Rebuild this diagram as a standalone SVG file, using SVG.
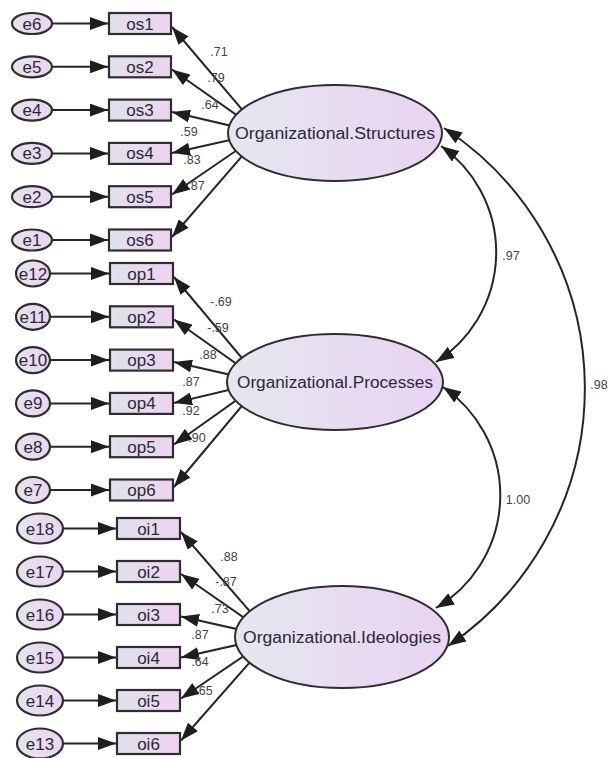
<svg xmlns="http://www.w3.org/2000/svg" width="610" height="758" viewBox="0 0 610 758">
  <defs>
    <linearGradient id="gLat" x1="0" y1="0" x2="1" y2="0">
      <stop offset="0" stop-color="#e5e7ef"/>
      <stop offset="1" stop-color="#e9d3f2"/>
    </linearGradient>
    <linearGradient id="gObs" x1="0" y1="0" x2="1" y2="0">
      <stop offset="0" stop-color="#e0e1eb"/>
      <stop offset="1" stop-color="#eed3f0"/>
    </linearGradient>
    <linearGradient id="gErr" x1="0" y1="0" x2="1" y2="0">
      <stop offset="0" stop-color="#e3e4ee"/>
      <stop offset="1" stop-color="#ecd4f0"/>
    </linearGradient>
    <marker id="ah" markerUnits="userSpaceOnUse" markerWidth="18" markerHeight="13" refX="18" refY="6.5" orient="auto-start-reverse" viewBox="0 0 18 13">
      <path d="M0,0 L18,6.5 L0,13 z" fill="#1e1e1e"/>
    </marker>
  </defs>
  <style>
    .lat { fill: url(#gLat); stroke: #2e2e2e; stroke-width: 2; }
    .obs { fill: url(#gObs); stroke: #2e2e2e; stroke-width: 2.2; }
    .err { fill: url(#gErr); stroke: #2e2e2e; stroke-width: 2.2; }
    .ln { fill: none; stroke: #262626; stroke-width: 2; marker-end: url(#ah); }
    .cov { fill: none; stroke: #262626; stroke-width: 2; marker-start: url(#ah); marker-end: url(#ah); }
    text { font-family: "Liberation Sans", Arial, sans-serif; fill: #2a2a35; }
    .tl { font-size: 16px; text-anchor: middle; }
    .tn { font-size: 17px; text-anchor: middle; }
    .tw { font-size: 12.5px; text-anchor: middle; fill: #444; }
  </style>

  <!-- paths: residual arrows, loadings and covariances -->
  <g id="connectors">
    <!-- residual arrows e -> indicator -->
    <line class="ln" x1="52" y1="23.5" x2="108" y2="23.5"/>
    <line class="ln" x1="52" y1="66.8" x2="108" y2="66.8"/>
    <line class="ln" x1="52" y1="110.1" x2="108" y2="110.1"/>
    <line class="ln" x1="52" y1="153.4" x2="108" y2="153.4"/>
    <line class="ln" x1="52" y1="196.7" x2="108" y2="196.7"/>
    <line class="ln" x1="52" y1="240" x2="108" y2="240"/>

    <line class="ln" x1="50" y1="273.5" x2="109" y2="273.5"/>
    <line class="ln" x1="50" y1="316.8" x2="109" y2="316.8"/>
    <line class="ln" x1="50" y1="360.1" x2="109" y2="360.1"/>
    <line class="ln" x1="50" y1="403.4" x2="109" y2="403.4"/>
    <line class="ln" x1="50" y1="446.7" x2="109" y2="446.7"/>
    <line class="ln" x1="50" y1="490" x2="109" y2="490"/>

    <line class="ln" x1="63" y1="528.5" x2="116" y2="528.5"/>
    <line class="ln" x1="63" y1="571.5" x2="116" y2="571.5"/>
    <line class="ln" x1="63" y1="614.5" x2="116" y2="614.5"/>
    <line class="ln" x1="63" y1="657.5" x2="116" y2="657.5"/>
    <line class="ln" x1="63" y1="700.5" x2="116" y2="700.5"/>
    <line class="ln" x1="63" y1="743.5" x2="116" y2="743.5"/>

    <!-- loadings: Organizational.Structures -->
    <line class="ln" x1="262" y1="133" x2="172" y2="27"/>
    <line class="ln" x1="262" y1="133" x2="172" y2="69.5"/>
    <line class="ln" x1="262" y1="133" x2="172" y2="112"/>
    <line class="ln" x1="262" y1="133" x2="172" y2="153"/>
    <line class="ln" x1="262" y1="133" x2="172" y2="194.5"/>
    <line class="ln" x1="262" y1="133" x2="172" y2="237"/>

    <!-- loadings: Organizational.Processes -->
    <line class="ln" x1="262" y1="382" x2="174" y2="277"/>
    <line class="ln" x1="262" y1="382" x2="174" y2="319.5"/>
    <line class="ln" x1="262" y1="382" x2="174" y2="362"/>
    <line class="ln" x1="262" y1="382" x2="174" y2="403"/>
    <line class="ln" x1="262" y1="382" x2="174" y2="444.5"/>
    <line class="ln" x1="262" y1="382" x2="174" y2="487"/>

    <!-- loadings: Organizational.Ideologies -->
    <line class="ln" x1="272" y1="637" x2="181" y2="532"/>
    <line class="ln" x1="272" y1="637" x2="181" y2="574"/>
    <line class="ln" x1="272" y1="637" x2="181" y2="616.5"/>
    <line class="ln" x1="272" y1="637" x2="181" y2="657.5"/>
    <line class="ln" x1="272" y1="637" x2="181" y2="698.5"/>
    <line class="ln" x1="272" y1="637" x2="181" y2="740.5"/>

    <!-- covariances between factors -->
    <path class="cov" d="M441,146 A130,130 0 0 1 436,362"/>
    <path class="cov" d="M443,387 A131,131 0 0 1 436,608"/>
    <path class="cov" d="M444,128 A311,311 0 0 1 448,646"/>
  </g>

  <!-- estimates on paths -->
  <g id="estimates">
    <text class="tw" x="219" y="56">.71</text>
    <text class="tw" x="216" y="82">.79</text>
    <text class="tw" x="210" y="109">.64</text>
    <text class="tw" x="189" y="136">.59</text>
    <text class="tw" x="192" y="164">.83</text>
    <text class="tw" x="196" y="190">.87</text>

    <text class="tw" x="221" y="306">-.69</text>
    <text class="tw" x="218" y="332">-.59</text>
    <text class="tw" x="208" y="359">.88</text>
    <text class="tw" x="191" y="386">.87</text>
    <text class="tw" x="191" y="415">.92</text>
    <text class="tw" x="197" y="442">.90</text>

    <text class="tw" x="229" y="561">.88</text>
    <text class="tw" x="226" y="586">-.87</text>
    <text class="tw" x="220" y="613">.73</text>
    <text class="tw" x="200" y="639">.87</text>
    <text class="tw" x="200" y="666">.64</text>
    <text class="tw" x="204" y="695">.65</text>

    <text class="tw" x="511" y="260">.97</text>
    <text class="tw" x="518" y="504">1.00</text>
    <text class="tw" x="599" y="389">.98</text>
  </g>

  <!-- latent factors -->
  <g id="Organizational.Structures">
    <ellipse class="lat" cx="335" cy="133" rx="107" ry="48"/>
    <text class="tl" x="335" y="139" textLength="200" lengthAdjust="spacingAndGlyphs">Organizational.Structures</text>
  </g>
  <g id="Organizational.Processes">
    <ellipse class="lat" cx="335" cy="382" rx="108" ry="48"/>
    <text class="tl" x="335" y="388" textLength="196" lengthAdjust="spacingAndGlyphs">Organizational.Processes</text>
  </g>
  <g id="Organizational.Ideologies">
    <ellipse class="lat" cx="342" cy="637" rx="107" ry="51"/>
    <text class="tl" x="342" y="643" textLength="198" lengthAdjust="spacingAndGlyphs">Organizational.Ideologies</text>
  </g>

  <!-- indicators -->
  <g id="os1"><rect class="obs" x="109" y="13" width="62" height="21"/><text class="tn" x="140" y="29.5">os1</text></g>
  <g id="os2"><rect class="obs" x="109" y="56.3" width="62" height="21"/><text class="tn" x="140" y="72.8">os2</text></g>
  <g id="os3"><rect class="obs" x="109" y="99.6" width="62" height="21"/><text class="tn" x="140" y="116.1">os3</text></g>
  <g id="os4"><rect class="obs" x="109" y="142.9" width="62" height="21"/><text class="tn" x="140" y="159.4">os4</text></g>
  <g id="os5"><rect class="obs" x="109" y="186.2" width="62" height="21"/><text class="tn" x="140" y="202.7">os5</text></g>
  <g id="os6"><rect class="obs" x="109" y="229.5" width="62" height="21"/><text class="tn" x="140" y="246">os6</text></g>

  <g id="op1"><rect class="obs" x="110" y="263" width="63" height="21"/><text class="tn" x="141.5" y="279.5">op1</text></g>
  <g id="op2"><rect class="obs" x="110" y="306.3" width="63" height="21"/><text class="tn" x="141.5" y="322.8">op2</text></g>
  <g id="op3"><rect class="obs" x="110" y="349.6" width="63" height="21"/><text class="tn" x="141.5" y="366.1">op3</text></g>
  <g id="op4"><rect class="obs" x="110" y="392.9" width="63" height="21"/><text class="tn" x="141.5" y="409.4">op4</text></g>
  <g id="op5"><rect class="obs" x="110" y="436.2" width="63" height="21"/><text class="tn" x="141.5" y="452.7">op5</text></g>
  <g id="op6"><rect class="obs" x="110" y="479.5" width="63" height="21"/><text class="tn" x="141.5" y="496">op6</text></g>

  <g id="oi1"><rect class="obs" x="117" y="518" width="63" height="21"/><text class="tn" x="148.5" y="534.5">oi1</text></g>
  <g id="oi2"><rect class="obs" x="117" y="561" width="63" height="21"/><text class="tn" x="148.5" y="577.5">oi2</text></g>
  <g id="oi3"><rect class="obs" x="117" y="604" width="63" height="21"/><text class="tn" x="148.5" y="620.5">oi3</text></g>
  <g id="oi4"><rect class="obs" x="117" y="647" width="63" height="21"/><text class="tn" x="148.5" y="663.5">oi4</text></g>
  <g id="oi5"><rect class="obs" x="117" y="690" width="63" height="21"/><text class="tn" x="148.5" y="706.5">oi5</text></g>
  <g id="oi6"><rect class="obs" x="117" y="733" width="63" height="21"/><text class="tn" x="148.5" y="749.5">oi6</text></g>

  <!-- residuals -->
  <g id="e6"><ellipse class="err" cx="32" cy="23.5" rx="20" ry="10.5"/><text class="tn" x="32" y="29.5">e6</text></g>
  <g id="e5"><ellipse class="err" cx="32" cy="66.8" rx="20" ry="10.5"/><text class="tn" x="32" y="72.8">e5</text></g>
  <g id="e4"><ellipse class="err" cx="32" cy="110.1" rx="20" ry="10.5"/><text class="tn" x="32" y="116.1">e4</text></g>
  <g id="e3"><ellipse class="err" cx="32" cy="153.4" rx="20" ry="10.5"/><text class="tn" x="32" y="159.4">e3</text></g>
  <g id="e2"><ellipse class="err" cx="32" cy="196.7" rx="20" ry="10.5"/><text class="tn" x="32" y="202.7">e2</text></g>
  <g id="e1"><ellipse class="err" cx="32" cy="240" rx="20" ry="10.5"/><text class="tn" x="32" y="246">e1</text></g>

  <g id="e12"><ellipse class="err" cx="33" cy="273.5" rx="17" ry="13"/><text class="tn" x="33" y="279.5">e12</text></g>
  <g id="e11"><ellipse class="err" cx="33" cy="316.8" rx="17" ry="13"/><text class="tn" x="33" y="322.8">e11</text></g>
  <g id="e10"><ellipse class="err" cx="33" cy="360.1" rx="17" ry="13"/><text class="tn" x="33" y="366.1">e10</text></g>
  <g id="e9"><ellipse class="err" cx="33" cy="403.4" rx="17" ry="13"/><text class="tn" x="33" y="409.4">e9</text></g>
  <g id="e8"><ellipse class="err" cx="33" cy="446.7" rx="17" ry="13"/><text class="tn" x="33" y="452.7">e8</text></g>
  <g id="e7"><ellipse class="err" cx="33" cy="490" rx="17" ry="13"/><text class="tn" x="33" y="496">e7</text></g>

  <g id="e18"><ellipse class="err" cx="40" cy="528.5" rx="23" ry="15"/><text class="tn" x="40" y="534.5">e18</text></g>
  <g id="e17"><ellipse class="err" cx="40" cy="571.5" rx="23" ry="15"/><text class="tn" x="40" y="577.5">e17</text></g>
  <g id="e16"><ellipse class="err" cx="40" cy="614.5" rx="23" ry="15"/><text class="tn" x="40" y="620.5">e16</text></g>
  <g id="e15"><ellipse class="err" cx="40" cy="657.5" rx="23" ry="15"/><text class="tn" x="40" y="663.5">e15</text></g>
  <g id="e14"><ellipse class="err" cx="40" cy="700.5" rx="23" ry="15"/><text class="tn" x="40" y="706.5">e14</text></g>
  <g id="e13"><ellipse class="err" cx="40" cy="743.5" rx="23" ry="15"/><text class="tn" x="40" y="749.5">e13</text></g>
</svg>
